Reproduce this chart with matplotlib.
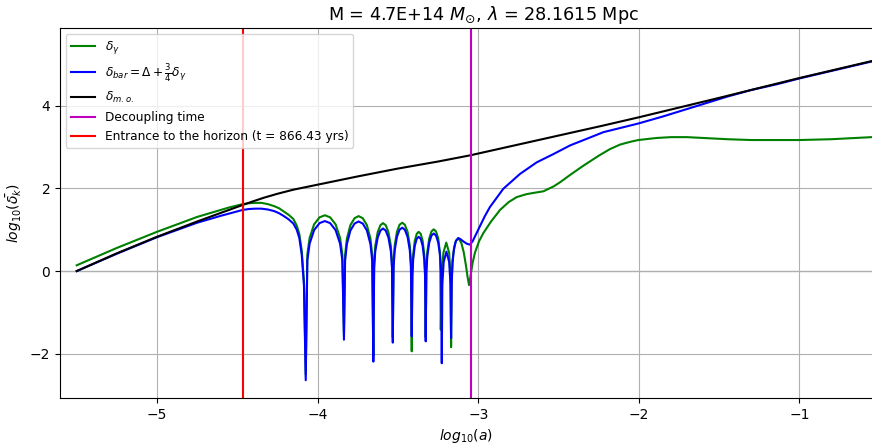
import matplotlib
matplotlib.use("Agg")
import matplotlib.pyplot as plt
from matplotlib.ticker import MultipleLocator

# (log10 a, log10 delta)
black_x = [-5.5, -5.25, -5.0, -4.75, -4.466, -4.40, -4.33, -4.25, -4.15, -4.0, -3.75,
           -3.5, -3.25, -3.05, -2.636, -2.222, -2.0, -1.5, -1.0, -0.55]
black_y = [0.0, 0.43, 0.83, 1.2, 1.6, 1.69, 1.78, 1.87, 1.97, 2.09, 2.29,
           2.48, 2.65, 2.80, 3.16, 3.52, 3.72, 4.19, 4.67, 5.08]

blue_x = [-5.5, -5.25, -5.0, -4.75, -4.6, -4.466, -4.43, -4.39, -4.35, -4.31, -4.27,
          -4.24, -4.21, -4.18, -4.151, -4.13, -4.114, -4.099, -4.085, -4.074,
          -4.064, -4.050, -4.022, -3.988, -3.955, -3.922, -3.888, -3.860, -3.846, -3.836,
          -3.829, -3.818, -3.796, -3.770, -3.745, -3.719, -3.693, -3.671, -3.660, -3.653,
          -3.648, -3.641, -3.626, -3.609, -3.593, -3.576, -3.559, -3.544, -3.537, -3.532,
          -3.527, -3.520, -3.506, -3.490, -3.473, -3.457, -3.440, -3.426, -3.419, -3.414,
          -3.410, -3.405, -3.395, -3.383, -3.371, -3.358, -3.346, -3.336, -3.331, -3.327,
          -3.323, -3.317, -3.305, -3.291, -3.277, -3.263, -3.249, -3.237, -3.231, -3.227,
          -3.2235, -3.215, -3.198, -3.181, -3.1725, -3.169,
          -3.165, -3.160, -3.152, -3.140, -3.125, -3.110, -3.090, -3.070, -3.052, -3.035,
          -3.015, -3.0, -2.96, -2.927, -2.844, -2.740, -2.636, -2.532, -2.428, -2.324,
          -2.221, -2.117, -2.003, -1.85, -1.65, -1.45, -1.3, -1.14, -1.0, -0.55]
blue_y = [0.0, 0.42, 0.82, 1.17, 1.34, 1.48, 1.50, 1.51, 1.51, 1.49, 1.45,
          1.40, 1.33, 1.25, 1.15, 1.0, 0.8, 0.4, -0.35, -2.64,
          0.26, 0.66, 0.99, 1.16, 1.21, 1.16, 0.99, 0.66, 0.26, -1.66,
          0.25, 0.65, 0.98, 1.15, 1.20, 1.15, 0.98, 0.65, 0.25, -2.19,
          0.08, 0.48, 0.81, 0.98, 1.03, 0.98, 0.81, 0.48, 0.08, -1.73,
          0.10, 0.50, 0.83, 1.00, 1.05, 1.00, 0.83, 0.50, 0.10, -1.58,
          -0.12, 0.28, 0.61, 0.78, 0.83, 0.78, 0.61, 0.28, -0.12, -1.70,
          -0.04, 0.36, 0.69, 0.86, 0.91, 0.86, 0.69, 0.36, -0.04, -2.23,
          -0.33, 0.22, 0.47, 0.22, -0.33, -1.62,
          -0.3, 0.2, 0.5, 0.72, 0.80, 0.77, 0.71, 0.66, 0.64, 0.72,
          0.88, 1.0, 1.32, 1.55, 1.99, 2.35, 2.63, 2.83, 3.04, 3.20,
          3.36, 3.46, 3.57, 3.74, 3.98, 4.22, 4.38, 4.52, 4.66, 5.07]

green_x = [-5.5, -5.25, -5.0, -4.75, -4.55, -4.466, -4.43, -4.39, -4.35, -4.31, -4.27,
           -4.24, -4.21, -4.18, -4.151, -4.13, -4.114, -4.099, -4.085, -4.074,
           -4.064, -4.050, -4.022, -3.988, -3.955, -3.922, -3.888, -3.860, -3.846, -3.836,
           -3.829, -3.818, -3.796, -3.770, -3.745, -3.719, -3.693, -3.671, -3.660, -3.653,
           -3.648, -3.641, -3.626, -3.609, -3.593, -3.576, -3.559, -3.544, -3.537, -3.532,
           -3.527, -3.520, -3.506, -3.490, -3.473, -3.457, -3.440, -3.426, -3.419, -3.414,
           -3.410, -3.405, -3.395, -3.383, -3.371, -3.358, -3.346, -3.336, -3.331, -3.327,
           -3.323, -3.317, -3.305, -3.291, -3.277, -3.263, -3.249, -3.239, -3.236, -3.233,
           -3.228, -3.217, -3.199, -3.181, -3.1725, -3.169,
           -3.165, -3.160, -3.150, -3.138, -3.122, -3.105, -3.090, -3.077, -3.066, -3.057,
           -3.048, -3.035, -3.02, -2.995, -2.968, -2.92, -2.864, -2.81, -2.76, -2.70,
           -2.657, -2.594, -2.53, -2.49, -2.43, -2.345, -2.25, -2.18, -2.117, -2.05,
           -2.003, -1.889, -1.80, -1.70, -1.6, -1.45, -1.3, -1.0, -0.8, -0.55]
green_y = [0.14, 0.56, 0.95, 1.31, 1.54, 1.62, 1.64, 1.65, 1.65, 1.62, 1.57,
           1.52, 1.44, 1.36, 1.26, 1.1, 0.9, 0.5, -0.25, -2.5,
           0.40, 0.80, 1.13, 1.30, 1.35, 1.30, 1.13, 0.80, 0.40, -1.55,
           0.38, 0.78, 1.11, 1.28, 1.33, 1.28, 1.11, 0.78, 0.38, -2.05,
           0.21, 0.61, 0.94, 1.11, 1.16, 1.11, 0.94, 0.61, 0.21, -1.6,
           0.22, 0.62, 0.95, 1.12, 1.17, 1.12, 0.95, 0.62, 0.22, -1.94,
           0.00, 0.40, 0.73, 0.90, 0.95, 0.90, 0.73, 0.40, 0.00, -1.6,
           0.06, 0.46, 0.79, 0.96, 1.01, 0.96, 0.79, 0.46, 0.06, -1.42,
           -0.11, 0.44, 0.69, 0.44, -0.11, -1.84,
           -0.2, 0.25, 0.58, 0.74, 0.79, 0.68, 0.45, 0.15, -0.15, -0.34,
           -0.12, 0.2, 0.45, 0.72, 0.92, 1.2, 1.48, 1.67, 1.79, 1.86,
           1.89, 1.93, 2.05, 2.15, 2.32, 2.55, 2.79, 2.95, 3.06, 3.13,
           3.17, 3.22, 3.24, 3.24, 3.22, 3.19, 3.17, 3.17, 3.19, 3.24]

a_dec = -3.047
a_hor = -4.466
t_hor = 866.43

fig = plt.figure(figsize=(8.72, 4.44), dpi=100)
ax = fig.add_axes([60 / 872, 46 / 444, 813 / 872, 370 / 444])

ax.axhline(0, color="k", lw=0.8, zorder=1)
ax.plot(green_x, green_y, "g", lw=1.5, label=r"$\delta_{\gamma}$")
ax.plot(blue_x, blue_y, "b", lw=1.5, label=r"$\delta_{bar} = \Delta + \frac{3}{4}\delta_{\gamma}$")
ax.plot(black_x, black_y, "k", lw=1.5, label=r"$\delta_{m.o.}$")
ax.axvline(a_dec, color="m", lw=1.5, label="Decoupling time")
ax.axvline(a_hor, color="r", lw=1.5, label="Entrance to the horizon (t = %.2f yrs)" % t_hor)

ax.set_xlim(-5.604, -0.542)
ax.set_ylim(-3.07, 5.88)
ax.yaxis.set_major_locator(MultipleLocator(2))
ax.grid(True)
ax.set_xlabel(r"$log_{10}(a)$")
ax.set_ylabel(r"$log_{10}(\bar{\delta_k})$")
ax.set_title(r"M = 4.7E+14 $M_{\odot}$, $\lambda$ = 28.1615 Mpc", fontsize=12.7,
             x=(483 - 60) / 813)
ax.legend(loc="upper left", fontsize=8.7)

fig.savefig("out.png", dpi=100)
